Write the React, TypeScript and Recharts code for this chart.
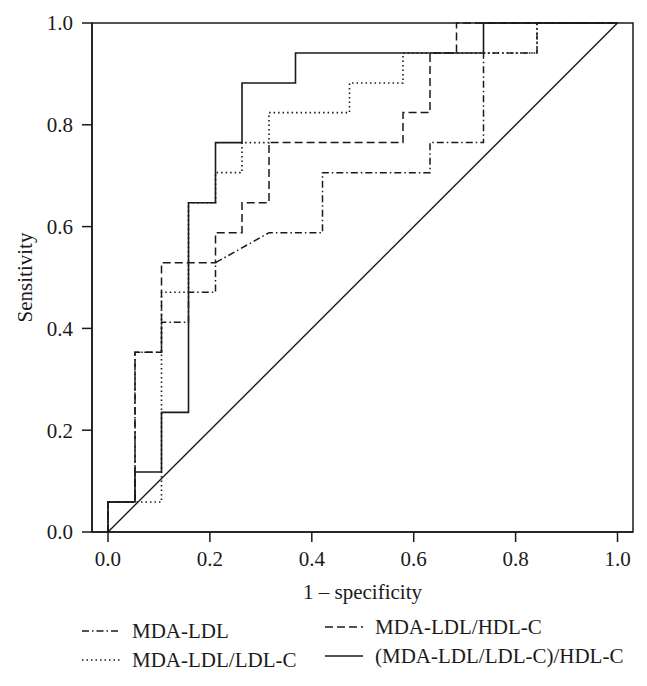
import React from 'react';
import { LineChart, Line, XAxis, YAxis, ReferenceArea } from 'recharts';

// ROC curve points: [1 - specificity, sensitivity]
const mdaLdl: number[][] = [
  [0, 0], [0, 0.059], [0.053, 0.059], [0.053, 0.353], [0.105, 0.353], [0.105, 0.412],
  [0.158, 0.412], [0.158, 0.471], [0.211, 0.471], [0.211, 0.529], [0.316, 0.588],
  [0.421, 0.588], [0.421, 0.706], [0.632, 0.706], [0.632, 0.765], [0.737, 0.765],
  [0.737, 0.941], [0.842, 0.941], [0.842, 1], [1, 1],
];
const mdaLdlLdlC: number[][] = [
  [0, 0], [0, 0.059], [0.105, 0.059], [0.105, 0.471], [0.158, 0.471], [0.158, 0.647],
  [0.211, 0.647], [0.211, 0.706], [0.263, 0.706], [0.263, 0.765], [0.316, 0.765],
  [0.316, 0.824], [0.474, 0.824], [0.474, 0.882], [0.579, 0.882], [0.579, 0.941],
  [0.842, 0.941], [0.842, 1], [1, 1],
];
const mdaLdlHdlC: number[][] = [
  [0, 0], [0, 0.059], [0.053, 0.059], [0.053, 0.353], [0.105, 0.353], [0.105, 0.529],
  [0.211, 0.529], [0.211, 0.588], [0.263, 0.588], [0.263, 0.647], [0.316, 0.647],
  [0.316, 0.765], [0.579, 0.765], [0.579, 0.824], [0.632, 0.824], [0.632, 0.941],
  [0.684, 0.941], [0.684, 1], [1, 1],
];
const combined: number[][] = [
  [0, 0], [0, 0.059], [0.053, 0.059], [0.053, 0.118], [0.105, 0.118], [0.105, 0.235],
  [0.158, 0.235], [0.158, 0.647], [0.211, 0.647], [0.211, 0.765], [0.263, 0.765],
  [0.263, 0.882], [0.368, 0.882], [0.368, 0.941], [0.737, 0.941], [0.737, 1], [1, 1],
];
const chanceLine: number[][] = [[0, 0], [1, 1]];

const xTicks = [0, 0.2, 0.4, 0.6, 0.8, 1.0];
const yTicks = [0, 0.2, 0.4, 0.6, 0.8, 1.0];
const xTitle = '1 \u2013 specificity';
const yTitle = 'Sensitivity';
const legendLabels = ['MDA-LDL', 'MDA-LDL/LDL-C', 'MDA-LDL/HDL-C', '(MDA-LDL/LDL-C)/HDL-C'];

const FONT = '"Liberation Serif", "Times New Roman", serif';
const INK = '#1a1a1a';
const DASH = {
  dashDot: '7 3 1.5 3',
  dotted: '1.5 3',
  dashed: '8 4',
  solid: undefined as string | undefined,
};
const styles = [DASH.dashDot, DASH.dotted, DASH.dashed, DASH.solid];

const toPts = (arr: number[][]) => arr.map(([x, y]) => ({ x, y }));

const tickFmt = (v: number) => v.toFixed(1);

const LegendItem = ({ label, dash, left, top }: { label: string; dash?: string; left: number; top: number }) => (
  <div style={{ position: 'absolute', left, top, display: 'flex', alignItems: 'center', height: 24 }}>
    <svg width={38} height={10} style={{ marginRight: 12 }}>
      <line x1={0} y1={5} x2={38} y2={5} stroke={INK} strokeWidth={1.5} strokeDasharray={dash} />
    </svg>
    <span style={{ fontFamily: FONT, fontSize: 21, color: INK, whiteSpace: 'nowrap', lineHeight: '24px' }}>{label}</span>
  </div>
);

export default function App() {
  return (
    <div style={{ position: 'absolute', left: 0, top: 0, width: 647, height: 686, background: '#fff' }}>
      <LineChart width={647} height={686} margin={{ top: 23, right: 14, bottom: 0, left: 0 }}>
        <XAxis
          dataKey="x"
          type="number"
          domain={[-0.0314, 1.0304]}
          ticks={xTicks}
          tickFormatter={tickFmt}
          allowDataOverflow
          height={154}
          stroke={INK}
          strokeWidth={1.5}
          tickSize={10}
          tickMargin={9}
          tick={{ fill: INK, fontSize: 21, fontFamily: FONT }}
          label={{ value: xTitle, position: 'insideTop', offset: 52, fill: INK, fontSize: 21, fontFamily: FONT }}
        />
        <YAxis
          dataKey="y"
          type="number"
          domain={[0, 1]}
          ticks={yTicks}
          tickFormatter={tickFmt}
          width={92}
          stroke={INK}
          strokeWidth={1.5}
          tickSize={10}
          tickMargin={9}
          tick={{ fill: INK, fontSize: 21, fontFamily: FONT }}
          label={{ value: yTitle, angle: -90, position: 'insideLeft', offset: 25, fill: INK, fontSize: 21, fontFamily: FONT, style: { textAnchor: 'middle' } }}
        />
        <ReferenceArea x1={-0.0314} x2={1.0304} y1={0} y2={1} fill="none" stroke={INK} strokeWidth={1.5} ifOverflow="extendDomain" />
        <Line data={toPts(chanceLine)} dataKey="y" type="linear" stroke={INK} strokeWidth={1.4} dot={false} activeDot={false} isAnimationActive={false} />
        <Line data={toPts(mdaLdl)} dataKey="y" type="linear" stroke={INK} strokeWidth={1.5} strokeDasharray={DASH.dashDot} dot={false} activeDot={false} isAnimationActive={false} />
        <Line data={toPts(mdaLdlLdlC)} dataKey="y" type="linear" stroke={INK} strokeWidth={1.6} strokeDasharray={DASH.dotted} dot={false} activeDot={false} isAnimationActive={false} />
        <Line data={toPts(mdaLdlHdlC)} dataKey="y" type="linear" stroke={INK} strokeWidth={1.5} strokeDasharray={DASH.dashed} dot={false} activeDot={false} isAnimationActive={false} />
        <Line data={toPts(combined)} dataKey="y" type="linear" stroke={INK} strokeWidth={1.6} dot={false} activeDot={false} isAnimationActive={false} />
      </LineChart>
      <LegendItem label={legendLabels[0]} dash={styles[0]} left={82} top={619} />
      <LegendItem label={legendLabels[1]} dash={styles[1]} left={82} top={648} />
      <LegendItem label={legendLabels[2]} dash={styles[2]} left={325} top={615} />
      <LegendItem label={legendLabels[3]} dash={styles[3]} left={325} top={644} />
    </div>
  );
}
